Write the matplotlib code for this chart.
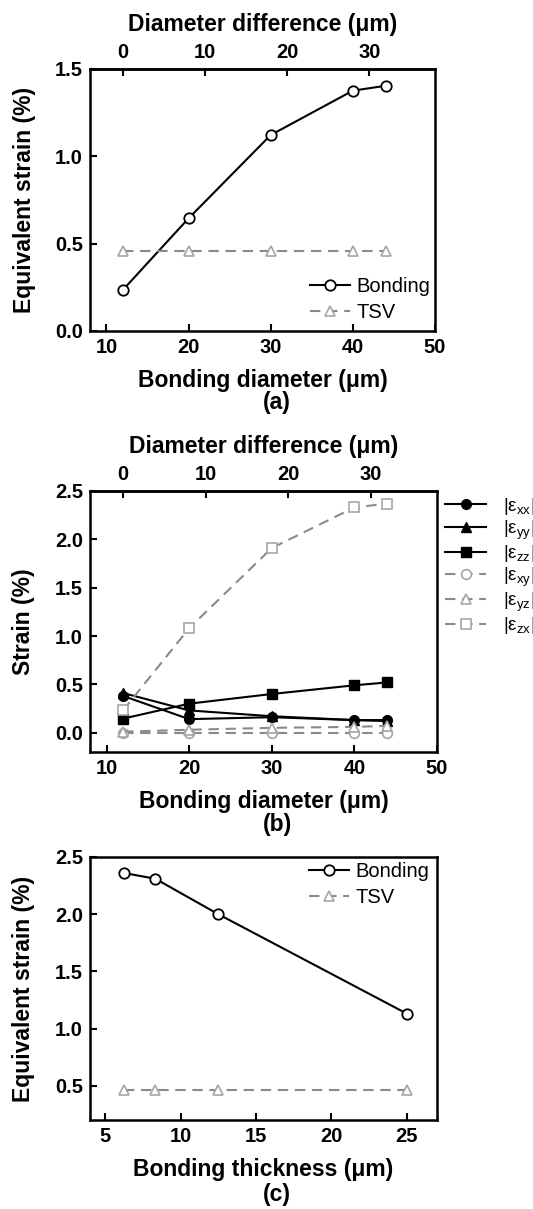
import numpy as np
import matplotlib
matplotlib.use('Agg')
import matplotlib.pyplot as plt

plt.rcParams['font.family'] = ['Liberation Sans', 'DejaVu Sans']
plt.rcParams['mathtext.default'] = 'regular'

# Data
diameter = [12, 20, 30, 40, 44]
diam_ref = 12  # diameter difference = diameter - 12
bond_a = [0.235, 0.645, 1.122, 1.376, 1.404]
tsv_a = [0.46, 0.46, 0.46, 0.46, 0.46]

eps_xx = [0.38, 0.14, 0.16, 0.13, 0.13]
eps_yy = [0.41, 0.23, 0.17, 0.13, 0.12]
eps_zz = [0.145, 0.30, 0.40, 0.49, 0.52]
eps_xy = [0.0, 0.0, 0.0, 0.0, 0.0]
eps_yz = [0.01, 0.03, 0.05, 0.06, 0.07]
eps_zx = [0.23, 1.08, 1.91, 2.33, 2.37]

thickness = [6.25, 8.33, 12.5, 25]
bond_c = [2.36, 2.31, 2.00, 1.13]
tsv_c = [0.46, 0.46, 0.46, 0.46]

W, H = 533, 1209
fig = plt.figure(figsize=(W / 100, H / 100), dpi=100)

black = 'black'
gray = '#8a8a8a'
mgray = '#a5a5a5'
dash = (5, 3.2)
tick_fs = 14.5
lab_fs = 16.5


def px_axes(left, top, right, bottom):
    return fig.add_axes([left / W, 1 - bottom / H, (right - left) / W, (bottom - top) / H])


def fig_pt(x, y):
    return (x / W, 1 - y / H)


def style(ax):
    for s in ax.spines.values():
        s.set_linewidth(1.8)
    ax.tick_params(direction='in', length=5, width=1.5, labelsize=tick_fs, pad=5)
    for lab in ax.get_xticklabels() + ax.get_yticklabels():
        lab.set_fontweight('bold')


def top_axis(ax):
    sec = ax.secondary_xaxis('top', functions=(lambda x: x - diam_ref, lambda x: x + diam_ref))
    sec.set_xticks([0, 10, 20, 30])
    sec.tick_params(direction='in', length=5, width=1.5, labelsize=tick_fs, pad=5)
    for lab in sec.get_xticklabels():
        lab.set_fontweight('bold')
    sec.spines['top'].set_linewidth(1.8)
    sec.set_xlabel('Diameter difference (μm)', fontsize=lab_fs, fontweight='bold', labelpad=9)
    return sec


# (a)
ax1 = px_axes(90, 69, 435, 331)
ax1.plot(diameter, bond_a, '-', color=black, lw=1.5, marker='o', ms=7.5,
         mfc='white', mec=black, mew=1.3, label='Bonding')
ax1.plot(diameter, tsv_a, color=gray, lw=1.5, dashes=dash, marker='^', ms=7.5,
         mfc='white', mec=mgray, mew=1.2, label='TSV')
ax1.set_xlim(8, 50)
ax1.set_ylim(0, 1.5)
ax1.set_xticks([10, 20, 30, 40, 50])
ax1.set_yticks([0.0, 0.5, 1.0, 1.5])
ax1.yaxis.set_major_formatter(plt.FormatStrFormatter('%.1f'))
style(ax1)
top_axis(ax1)
ax1.set_xlabel('Bonding diameter (μm)', fontsize=lab_fs, fontweight='bold', labelpad=9)
ax1.set_ylabel('Equivalent strain (%)', fontsize=lab_fs, fontweight='bold', labelpad=14)
ax1.legend(loc='lower right', bbox_to_anchor=fig_pt(430, 322), bbox_transform=fig.transFigure,
           frameon=False, fontsize=14.5, handlelength=2.0, handletextpad=0.3,
           borderaxespad=0, borderpad=0, labelspacing=0.35)
fig.text(277 / W, 1 - 403 / H, '(a)', fontsize=lab_fs, fontweight='bold', ha='center', va='center')

# (b)
ax2 = px_axes(90, 491, 437, 752)
ax2.plot(diameter, eps_xx, '-', color=black, lw=1.5, marker='o', ms=7, mfc=black, mec=black,
         label='|ε$_{xx}$|')
ax2.plot(diameter, eps_yy, '-', color=black, lw=1.5, marker='^', ms=7, mfc=black, mec=black,
         label='|ε$_{yy}$|')
ax2.plot(diameter, eps_zz, '-', color=black, lw=1.5, marker='s', ms=6.5, mfc=black, mec=black,
         label='|ε$_{zz}$|')
ax2.plot(diameter, eps_xy, color=gray, lw=1.5, dashes=dash, marker='o', ms=7, mfc='white',
         mec=mgray, mew=1.2, label='|ε$_{xy}$|')
ax2.plot(diameter, eps_yz, color=gray, lw=1.5, dashes=dash, marker='^', ms=7, mfc='white',
         mec=mgray, mew=1.2, label='|ε$_{yz}$|')
ax2.plot(diameter, eps_zx, color=gray, lw=1.5, dashes=dash, marker='s', ms=6.5, mfc='white',
         mec=mgray, mew=1.2, label='|ε$_{zx}$|')
ax2.set_xlim(8, 50)
ax2.set_ylim(-0.2, 2.5)
ax2.set_xticks([10, 20, 30, 40, 50])
ax2.set_yticks([0.0, 0.5, 1.0, 1.5, 2.0, 2.5])
ax2.yaxis.set_major_formatter(plt.FormatStrFormatter('%.1f'))
style(ax2)
top_axis(ax2)
ax2.set_xlabel('Bonding diameter (μm)', fontsize=lab_fs, fontweight='bold', labelpad=9)
ax2.set_ylabel('Strain (%)', fontsize=lab_fs, fontweight='bold', labelpad=14)
ax2.legend(loc='upper left', bbox_to_anchor=fig_pt(445, 496), bbox_transform=fig.transFigure,
           frameon=False, fontsize=13.5, handlelength=2.2, handletextpad=0.9,
           borderaxespad=0, borderpad=0.0, labelspacing=0.08)
fig.text(277 / W, 1 - 824 / H, '(b)', fontsize=lab_fs, fontweight='bold', ha='center', va='center')

# (c)
ax3 = px_axes(90, 857, 437, 1120)
ax3.plot(thickness, bond_c, '-', color=black, lw=1.5, marker='o', ms=7.5,
         mfc='white', mec=black, mew=1.3, label='Bonding')
ax3.plot(thickness, tsv_c, color=gray, lw=1.5, dashes=dash, marker='^', ms=7.5,
         mfc='white', mec=mgray, mew=1.2, label='TSV')
ax3.set_xlim(4, 27)
ax3.set_ylim(0.2, 2.5)
ax3.set_xticks([5, 10, 15, 20, 25])
ax3.set_yticks([0.5, 1.0, 1.5, 2.0, 2.5])
ax3.yaxis.set_major_formatter(plt.FormatStrFormatter('%.1f'))
style(ax3)
ax3.set_xlabel('Bonding thickness (μm)', fontsize=lab_fs, fontweight='bold', labelpad=9)
ax3.set_ylabel('Equivalent strain (%)', fontsize=lab_fs, fontweight='bold', labelpad=14)
ax3.legend(loc='upper right', bbox_to_anchor=fig_pt(429, 862), bbox_transform=fig.transFigure,
           frameon=False, fontsize=14.5, handlelength=2.0, handletextpad=0.3,
           borderaxespad=0, borderpad=0, labelspacing=0.35)
fig.text(277 / W, 1 - 1195 / H, '(c)', fontsize=lab_fs, fontweight='bold', ha='center', va='center')

fig.savefig('out.png', dpi=100)
